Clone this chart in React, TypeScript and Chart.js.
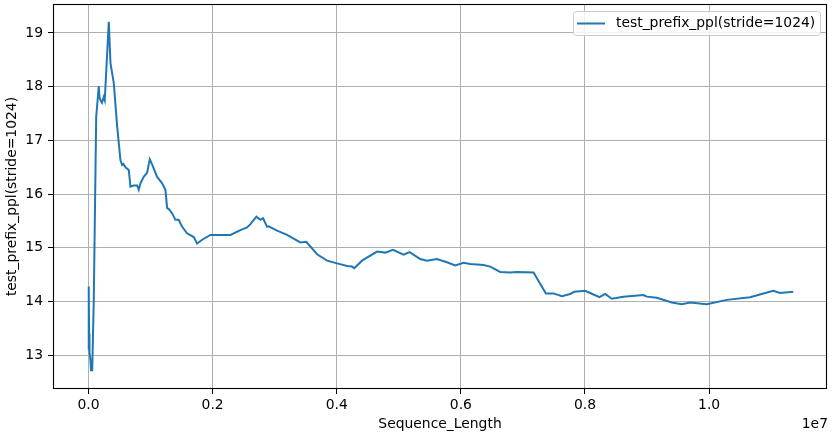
import { useEffect, useRef } from "react";
import { Chart, registerables } from "chart.js";

Chart.register(...registerables);

// Sequence length in millions (axis shows ×1e7)
const seqLengthM = [
  0.0, 0.004, 0.01, 0.016, 0.032, 0.04, 0.06, 0.085, 0.124, 0.166, 0.177, 0.193, 0.217, 0.246, 0.262,
  0.327, 0.354, 0.407, 0.462, 0.515, 0.543, 0.564, 0.596, 0.649, 0.676, 0.729, 0.784, 0.81, 0.837,
  0.89, 0.945, 0.987, 1.026, 1.106, 1.187, 1.24, 1.267, 1.296, 1.348, 1.401, 1.454, 1.509, 1.589,
  1.696, 1.75, 1.831, 1.965, 2.126, 2.287, 2.448, 2.556, 2.609, 2.705, 2.77, 2.813, 2.878, 2.903,
  3.039, 3.2, 3.414, 3.51, 3.683, 3.844, 4.005, 4.166, 4.246, 4.283, 4.407, 4.649, 4.783, 4.907,
  5.077, 5.174, 5.346, 5.454, 5.615, 5.776, 5.91, 6.043, 6.151, 6.366, 6.473, 6.634, 6.795, 6.903,
  7.171, 7.37, 7.493, 7.628, 7.762, 7.826, 8.003, 8.137, 8.234, 8.325, 8.433, 8.62, 8.942, 8.997,
  9.158, 9.399, 9.56, 9.694, 9.963, 10.285, 10.66, 10.875, 11.035, 11.143, 11.357,
];

const pplValues = [
  13.1, 14.28, 13.4, 13.05, 12.9, 12.72, 12.72, 14.03, 17.44, 18.01, 17.8, 17.75, 17.7, 17.81, 17.75,
  19.21, 18.44, 18.07, 17.26, 16.63, 16.54, 16.56, 16.5, 16.45, 16.14, 16.16, 16.16, 16.08, 16.2,
  16.32, 16.4, 16.65, 16.55, 16.32, 16.2, 16.08, 15.74, 15.72, 15.64, 15.52, 15.52, 15.39, 15.27,
  15.2, 15.08, 15.15, 15.24, 15.24, 15.24, 15.33, 15.38, 15.44, 15.58, 15.52, 15.55, 15.39, 15.4,
  15.32, 15.24, 15.1, 15.11, 14.88, 14.76, 14.71, 14.66, 14.65, 14.62, 14.76, 14.93, 14.91, 14.96,
  14.87, 14.92, 14.79, 14.76, 14.79, 14.73, 14.67, 14.72, 14.7, 14.68, 14.65, 14.55, 14.54, 14.55,
  14.54, 14.15, 14.15, 14.1, 14.14, 14.18, 14.2, 14.13, 14.08, 14.14, 14.05, 14.09, 14.12, 14.09,
  14.07, 13.98, 13.95, 13.98, 13.95, 14.03, 14.08, 14.15, 14.2, 14.16, 14.18,
];

const xTickValues = [0, 2e6, 4e6, 6e6, 8e6, 1e7];
const xTickLabels = ["0.0", "0.2", "0.4", "0.6", "0.8", "1.0"];
const yTickValues = [13, 14, 15, 16, 17, 18, 19];
const yTickLabels = ["13", "14", "15", "16", "17", "18", "19"];

const seriesLabel = "test_prefix_ppl(stride=1024)";
const xTitle = "Sequence_Length";
const yTitle = "test_prefix_ppl(stride=1024)";
const xOffsetText = "1e7";

const FONT = "DejaVu Sans";
const FS = 13.9;

export default function App() {
  const ref = useRef<HTMLCanvasElement>(null);

  useEffect(() => {
    document.body.style.margin = "0";
    const canvas = ref.current!;
    const lineColor = "#1f77b4";

    const decor = {
      id: "decor",
      afterDraw(chart: any) {
        const ctx = chart.ctx as CanvasRenderingContext2D;
        const a = chart.chartArea;
        ctx.save();
        // frame
        ctx.strokeStyle = "#000";
        ctx.lineWidth = 1.1;
        ctx.strokeRect(a.left + 0.5, a.top + 0.5, a.right - a.left - 1, a.bottom - a.top - 1);
        // titles
        ctx.fillStyle = "#000";
        ctx.font = `${FS}px "${FONT}"`;
        ctx.textBaseline = "middle";
        ctx.textAlign = "center";
        ctx.fillText(xTitle, (a.left + a.right) / 2, 424);
        ctx.textAlign = "right";
        ctx.fillText(xOffsetText, a.right + 1, 424);
        ctx.save();
        ctx.translate(12, (a.top + a.bottom) / 2);
        ctx.rotate(-Math.PI / 2);
        ctx.textAlign = "center";
        ctx.fillText(yTitle, 0, 0);
        ctx.restore();
        // legend
        ctx.beginPath();
        (ctx as any).roundRect(573.5, 11.5, 247, 24, 3);
        ctx.fillStyle = "rgba(255,255,255,0.8)";
        ctx.fill();
        ctx.strokeStyle = "#cccccc";
        ctx.lineWidth = 1;
        ctx.stroke();
        ctx.beginPath();
        ctx.moveTo(577, 23.5);
        ctx.lineTo(605, 23.5);
        ctx.strokeStyle = lineColor;
        ctx.lineWidth = 2;
        ctx.stroke();
        ctx.fillStyle = "#000";
        ctx.textAlign = "left";
        ctx.textBaseline = "middle";
        ctx.fillText(seriesLabel, 616, 23.5);
        ctx.restore();
      },
    };

    const chart = new Chart(canvas, {
      type: "line",
      data: {
        datasets: [
          {
            label: seriesLabel,
            data: seqLengthM.map((s, i) => ({ x: s * 1e6, y: pplValues[i] })),
            borderColor: lineColor,
            backgroundColor: lineColor,
            borderWidth: 2,
            pointRadius: 0,
            tension: 0,
            fill: false,
          },
        ],
      },
      options: {
        animation: false,
        responsive: false,
        devicePixelRatio: 1,
        layout: { padding: { top: 4, right: 7, left: 0, bottom: 0 } },
        plugins: { legend: { display: false }, tooltip: { enabled: false } },
        scales: {
          x: {
            type: "linear",
            min: -572000,
            max: 11900000,
            afterBuildTicks: (s: any) => {
              s.ticks = xTickValues.map((v) => ({ value: v }));
            },
            afterFit: (s: any) => {
              s.height = 48;
              s.paddingLeft = 0;
              s.paddingRight = 0;
              s.paddingTop = 0;
              s.paddingBottom = 0;
            },
            ticks: {
              callback: (_v: any, i: number) => xTickLabels[i],
              maxRotation: 0,
              autoSkip: false,
              color: "#000",
              padding: 3,
              font: { family: FONT, size: FS },
            },
            grid: { color: "#b0b0b0", lineWidth: 1, tickColor: "#000", tickLength: 5 },
            border: { display: false },
          },
          y: {
            type: "linear",
            min: 12.37,
            max: 19.54,
            afterBuildTicks: (s: any) => {
              s.ticks = yTickValues.map((v) => ({ value: v }));
            },
            afterFit: (s: any) => {
              s.width = 53;
              s.paddingLeft = 0;
              s.paddingRight = 0;
              s.paddingTop = 0;
              s.paddingBottom = 0;
            },
            ticks: {
              callback: (_v: any, i: number) => yTickLabels[i],
              autoSkip: false,
              color: "#000",
              padding: 5,
              font: { family: FONT, size: FS },
            },
            grid: { color: "#b0b0b0", lineWidth: 1, tickColor: "#000", tickLength: 5 },
            border: { display: false },
          },
        },
      },
      plugins: [decor],
    } as any);

    return () => chart.destroy();
  }, []);

  return (
    <div style={{ width: 834, height: 437, position: "relative" }}>
      <canvas ref={ref} width={834} height={437} style={{ display: "block" }} />
    </div>
  );
}
